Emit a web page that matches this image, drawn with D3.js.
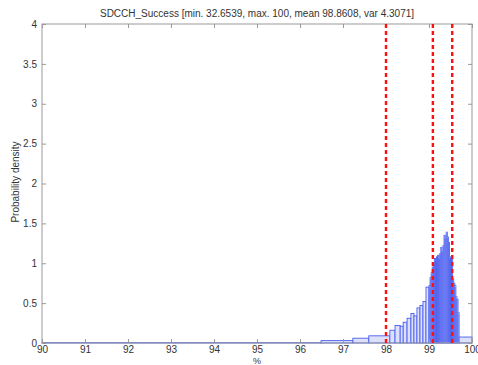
<!DOCTYPE html>
<html>
<head>
<meta charset="utf-8">
<script src="https://cdn.jsdelivr.net/npm/d3@7"></script>
<style>
  body { margin: 0; background: #fff; }
  svg { display: block; font-family: Arial, "Liberation Sans", sans-serif; }
</style>
</head>
<body>
<svg id="chart" width="478" height="365"></svg>
<script>
// histogram bin edges (%), one more than densities
var binEdges = [90, 96.49, 97.23, 97.60, 98.09, 98.21, 98.33, 98.40, 98.49, 98.58, 98.65,
  98.72, 98.79, 98.86, 98.93, 99.00,
  99.025, 99.05, 99.075, 99.10, 99.125, 99.15, 99.175, 99.20, 99.225, 99.25,
  99.275, 99.30, 99.325, 99.35, 99.375, 99.40, 99.425, 99.45, 99.475, 99.50,
  99.525, 99.55, 99.575, 99.60, 99.625, 99.65, 99.675, 99.70, 100]
var densities = [0.004, 0.03, 0.06, 0.09, 0.16, 0.22, 0.21, 0.26, 0.31, 0.37,
  0.34, 0.44, 0.47, 0.52, 0.70,
  0.72, 0.82, 0.88, 0.95, 1.00, 1.06, 1.04, 1.08, 1.10, 1.05,
  1.12, 1.20, 1.14, 1.22, 1.35, 1.30, 1.39, 1.33, 1.26, 1.08,
  1.05, 1.06, 0.80, 0.75, 0.72, 0.58, 0.55, 0.38, 0.075]
var markers = [98.0, 99.09, 99.54] // red dashed lines
var xTicks = [90, 91, 92, 93, 94, 95, 96, 97, 98, 99, 100]
var yTicks = [0, 0.5, 1, 1.5, 2, 2.5, 3, 3.5, 4]
var title = 'SDCCH_Success [min. 32.6539, max. 100, mean 98.8608, var 4.3071]'

var margin = { top: 24, right: 6, bottom: 22, left: 42 }
var width = 478 - margin.left - margin.right
var height = 365 - margin.top - margin.bottom

var svg = d3.select('#chart')
var g = svg.append('g').attr('transform', `translate(${margin.left},${margin.top})`)

var x = d3.scaleLinear().domain([90, 100]).range([0, width])
var y = d3.scaleLinear().domain([0, 4]).range([height, 0])

var bins = densities.map(function (d, i) {
  return { x0: binEdges[i], x1: binEdges[i + 1], v: d }
})

// bars
g.append('g').selectAll('rect')
  .data(bins)
  .enter().append('rect')
    .attr('x', function (d) { return x(d.x0) })
    .attr('width', function (d) { return x(d.x1) - x(d.x0) })
    .attr('y', function (d) { return y(d.v) })
    .attr('height', function (d) { return y(0) - y(d.v) })
    .attr('fill', '#dde0fb')
    .attr('stroke', '#4c5eef')
    .attr('stroke-width', 0.9)

// box
g.append('rect')
  .attr('width', width).attr('height', height)
  .attr('fill', 'none').attr('stroke', '#999')

// axes with inward ticks (matlab style)
var ax = g.append('g').attr('class', 'axes')
ax.append('g')
  .attr('transform', `translate(0,${height})`)
  .call(d3.axisBottom(x).tickValues(xTicks).tickSize(-4).tickPadding(3).tickFormat(d3.format('d')))
ax.append('g')
  .call(d3.axisTop(x).tickValues(xTicks).tickSize(-4).tickFormat(''))
ax.append('g')
  .call(d3.axisLeft(y).tickValues(yTicks).tickSize(-4).tickPadding(5).tickFormat(d3.format('')))
ax.append('g')
  .attr('transform', `translate(${width},0)`)
  .call(d3.axisRight(y).tickValues(yTicks).tickSize(-4).tickFormat(''))
ax.selectAll('.domain').remove()
ax.selectAll('.tick line').attr('stroke', '#999')
ax.selectAll('.tick text').attr('fill', '#333').style('font-size', '10px')

// red dashed lines
g.append('g').selectAll('line')
  .data(markers)
  .enter().append('line')
    .attr('x1', function (d) { return x(d) })
    .attr('x2', function (d) { return x(d) })
    .attr('y1', 0).attr('y2', height)
    .attr('stroke', '#ff1010')
    .attr('stroke-width', 2.4)
    .attr('stroke-dasharray', '4,3')

// title and labels
svg.append('text')
  .attr('x', margin.left + width / 2).attr('y', 17)
  .attr('text-anchor', 'middle').attr('fill', '#333')
  .style('font-size', '10px')
  .text(title)

svg.append('text')
  .attr('x', margin.left + width / 2).attr('y', 364)
  .attr('text-anchor', 'middle').attr('fill', '#333')
  .style('font-size', '9px')
  .text('%')

svg.append('text')
  .attr('transform', 'translate(19,182) rotate(-90)')
  .attr('text-anchor', 'middle').attr('fill', '#333')
  .style('font-size', '10px')
  .text('Probability density')
</script>
</body>
</html>
